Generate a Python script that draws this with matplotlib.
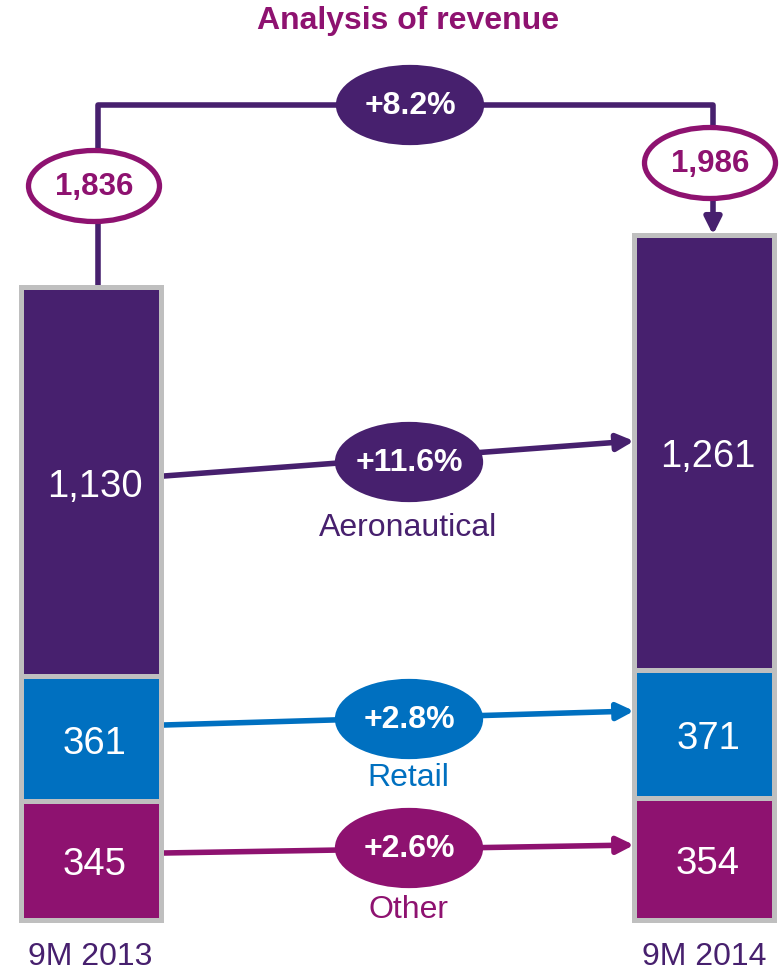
import matplotlib.pyplot as plt
from matplotlib.patches import Ellipse

plt.rcParams["font.family"] = ["Liberation Sans", "DejaVu Sans"]

periods = ["9M 2013", "9M 2014"]
segments = ["Aeronautical", "Retail", "Other"]
rev_2013 = [1130, 361, 345]
rev_2014 = [1261, 371, 354]

PURPLE = "#47206E"
BLUE = "#0070C0"
MAGENTA = "#8E1270"
GREY = "#BFBFBF"
seg_colors = [PURPLE, BLUE, MAGENTA]

# layout in pixels (figure is 781 x 972), y mapped to revenue units
SCALE = 0.345          # pixels per unit of revenue
BASE = 920             # pixel row of the zero line
BAR_X = [90.5, 704]
BAR_W = 140


def ypx(p):
    return (BASE - p) / SCALE


def hpx(p):
    return p / SCALE


def pct(a, b):
    return f"+{(b / a - 1) * 100:.1f}%"


fig = plt.figure(figsize=(7.81, 9.72), dpi=100)
ax = fig.add_axes([0, 0, 1, 1])
ax.set_xlim(0, 781)
ax.set_ylim(ypx(972), ypx(0))
ax.axis("off")

# stacked bars, drawn bottom-up: Other, Retail, Aeronautical
for x, values in zip(BAR_X, [rev_2013, rev_2014]):
    bottom = 0
    for val, col in reversed(list(zip(values, seg_colors))):
        ax.bar(x, val, bottom=bottom, width=BAR_W, color=col,
               edgecolor=GREY, linewidth=3.6, zorder=3)
        ax.text(x + 4, bottom + val / 2 - hpx(5), f"{val:,}", color="white",
                fontsize=27.5, ha="center", va="center", zorder=4)
        bottom += val

totals = [sum(rev_2013), sum(rev_2014)]

# top bracket linking the two totals
top_y = ypx(105)
lx, rx = 98, 713
ax.plot([lx, lx, rx, rx], [totals[0], top_y, top_y, ypx(200)],
        color=PURPLE, lw=4, solid_capstyle="butt", zorder=1)
ax.annotate("", xy=(rx, totals[1]), xytext=(rx, ypx(198)),
            arrowprops=dict(arrowstyle="-|>", color=PURPLE, lw=4,
                            mutation_scale=25, shrinkA=0, shrinkB=0),
            zorder=1)


def bubble(cx, cy, w, h, text, face, edge, tcolor, size=23):
    ax.add_patch(Ellipse((cx, ypx(cy)), w, hpx(h), facecolor=face,
                         edgecolor=edge, linewidth=3.8, zorder=5))
    ax.text(cx, ypx(cy + 1), text, color=tcolor, fontsize=size,
            fontweight="bold", ha="center", va="center", zorder=6)


bubble(410, 105, 143, 75, pct(totals[0], totals[1]), PURPLE, PURPLE, "white")
bubble(94, 186, 131, 71, f"{totals[0]:,}", "white", MAGENTA, MAGENTA, 22.5)
bubble(710, 163, 131, 71, f"{totals[1]:,}", "white", MAGENTA, MAGENTA, 22.5)

# segment growth arrows
arrow_rows = [(476, 441), (725, 711), (853, 845)]
bubble_rows = [462, 719, 848]
label_rows = [528, 778, 910]
for seg, a, b, col, (y0, y1), by, ly in zip(segments, rev_2013, rev_2014,
                                            seg_colors, arrow_rows,
                                            bubble_rows, label_rows):
    ax.annotate("", xy=(634, ypx(y1)), xytext=(164, ypx(y0)),
                arrowprops=dict(arrowstyle="-|>", color=col, lw=4,
                                mutation_scale=25, shrinkA=0, shrinkB=0),
                zorder=2)
    bubble(409, by, 143, 75, pct(a, b), col, col, "white")
    ax.text(408, ypx(ly), seg, color=col, fontsize=23,
            ha="center", va="center")

for x, label in zip(BAR_X, periods):
    ax.text(x, ypx(957), label, color=PURPLE, fontsize=23,
            ha="center", va="center")

ax.text(408, ypx(21), "Analysis of revenue", color=MAGENTA, fontsize=23,
        fontweight="bold", ha="center", va="center")

fig.savefig("out.png", dpi=100)
